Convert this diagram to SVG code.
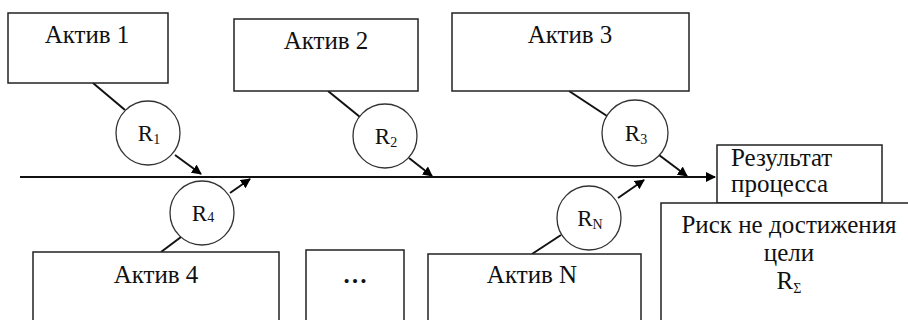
<svg xmlns="http://www.w3.org/2000/svg" width="908" height="320" viewBox="0 0 908 320">
<defs>
<marker id="ah" viewBox="0 0 10 10" refX="9" refY="5" markerWidth="10" markerHeight="10" markerUnits="userSpaceOnUse" orient="auto">
<path d="M0,0 L10,5 L0,10 z" fill="#000"/>
</marker>
<style>
.box{fill:#fff;stroke:#222;stroke-width:1.5}
.circ{fill:#fff;stroke:#333;stroke-width:1.3}
.t{font-family:'Liberation Serif','DejaVu Serif','Times New Roman',serif;font-size:25px;fill:#111}
.r{font-size:23px}
.c{text-anchor:middle}
.sub{font-size:14px}
.ln{stroke:#111;stroke-width:2;fill:none}
</style>
</defs>
<rect width="908" height="320" fill="#fff"/>
<g id="connectors">
<line class="ln" x1="20" y1="177" x2="715" y2="177" marker-end="url(#ah)"/>
<line class="ln" x1="93" y1="83" x2="125" y2="110"/>
<line class="ln" x1="175" y1="155" x2="201" y2="174" marker-end="url(#ah)"/>
<line class="ln" x1="328" y1="91" x2="360" y2="117"/>
<line class="ln" x1="409" y1="158" x2="432" y2="176" marker-end="url(#ah)"/>
<line class="ln" x1="569" y1="91" x2="607" y2="116"/>
<line class="ln" x1="659" y1="155" x2="687" y2="176" marker-end="url(#ah)"/>
<line class="ln" x1="161" y1="252" x2="181" y2="237"/>
<line class="ln" x1="230" y1="193" x2="250" y2="179" marker-end="url(#ah)"/>
<line class="ln" x1="532" y1="254" x2="561" y2="235"/>
<line class="ln" x1="618" y1="198" x2="644" y2="180" marker-end="url(#ah)"/>
</g>
<g id="aktiv1"><rect class="box" x="8" y="13" width="160" height="70"/><text class="t c" x="87" y="43">Актив 1</text></g>
<g id="aktiv2"><rect class="box" x="234" y="19" width="184" height="72"/><text class="t c" x="326" y="49">Актив 2</text></g>
<g id="aktiv3"><rect class="box" x="452" y="13" width="237" height="78"/><text class="t c" x="570" y="43">Актив 3</text></g>
<g id="aktiv4"><rect class="box" x="33" y="252" width="246" height="80"/><text class="t c" x="156" y="283">Актив 4</text></g>
<g id="dots"><rect class="box" x="306" y="250" width="98" height="82"/><text class="t c" x="355" y="283" font-size="28" font-weight="bold">…</text></g>
<g id="aktivN"><rect class="box" x="428" y="254" width="213" height="78"/><text class="t c" x="532" y="283">Актив N</text></g>
<g id="r1"><circle class="circ" cx="148" cy="133" r="32"/><text class="t r c" x="149" y="141">R<tspan class="sub" dy="3">1</tspan></text></g>
<g id="r2"><circle class="circ" cx="385" cy="136" r="32"/><text class="t r c" x="386" y="144">R<tspan class="sub" dy="3">2</tspan></text></g>
<g id="r3"><circle class="circ" cx="635" cy="133" r="33"/><text class="t r c" x="636" y="141">R<tspan class="sub" dy="3">3</tspan></text></g>
<g id="r4"><circle class="circ" cx="202" cy="213" r="32"/><text class="t r c" x="203" y="221">R<tspan class="sub" dy="1">4</tspan></text></g>
<g id="rN"><circle class="circ" cx="589" cy="218" r="32"/><text class="t r c" x="590" y="226">R<tspan class="sub" dy="3">N</tspan></text></g>
<g id="result"><rect class="box" x="717" y="145" width="165" height="58"/><text class="t" x="731" y="166" font-size="24">Результат</text><text class="t" x="731" y="192" font-size="24">процесса</text></g>
<g id="risk"><rect class="box" x="661" y="203" width="260" height="130"/><text class="t c" x="789" y="233">Риск не достижения</text><text class="t c" x="789" y="261">цели</text><text class="t c" x="789" y="289">R<tspan class="sub" dy="4">Σ</tspan></text></g>
</svg>
